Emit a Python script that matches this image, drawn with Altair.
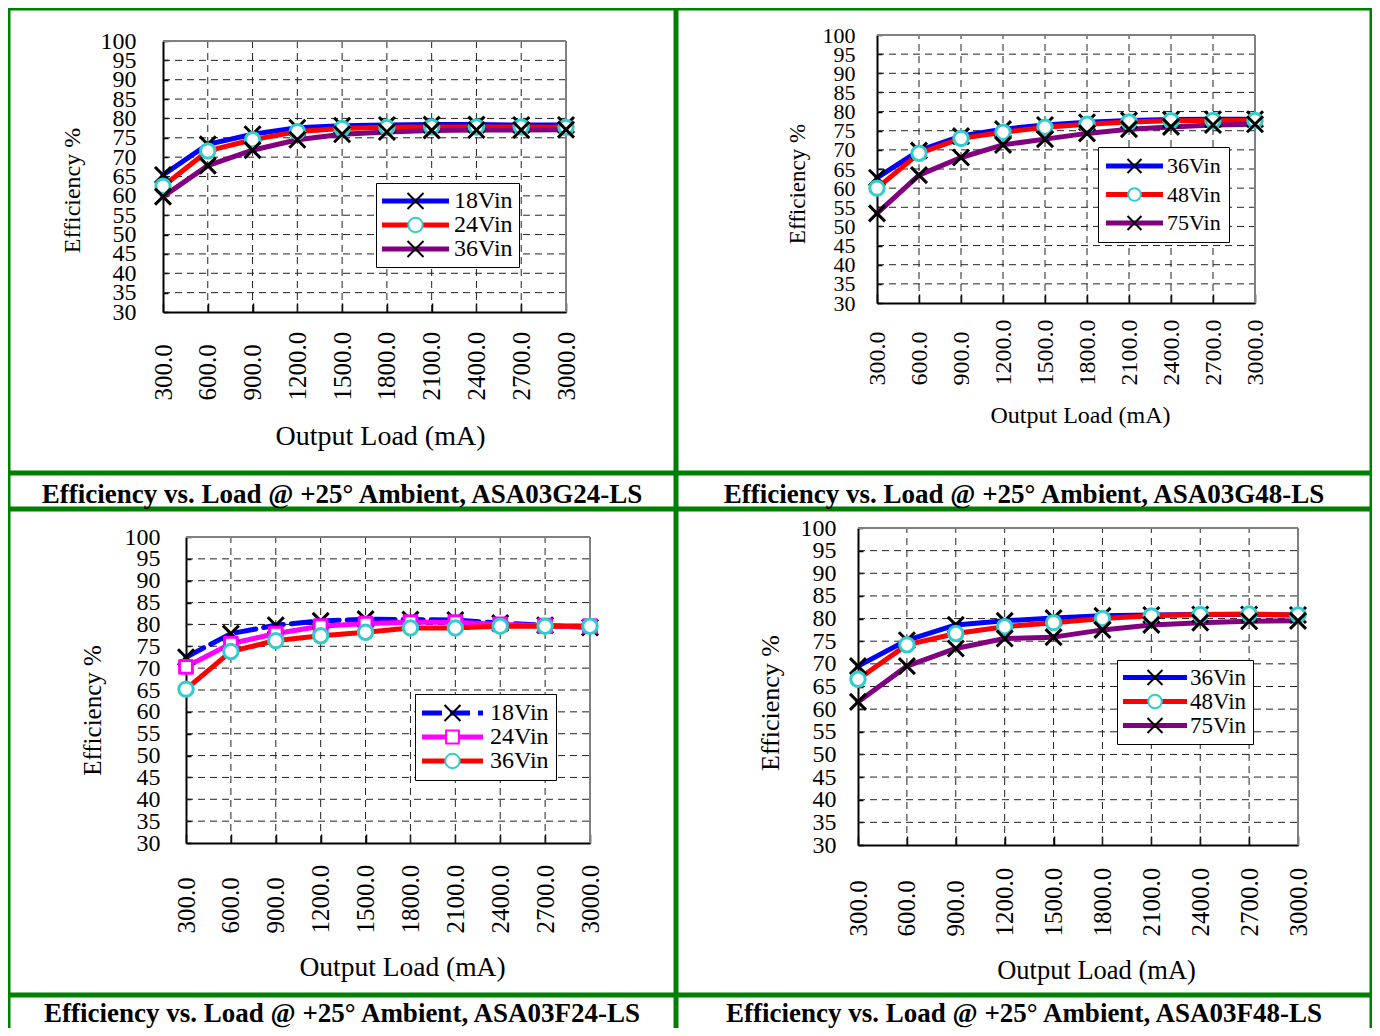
import altair as alt
import pandas as pd

# ---------------- data ----------------
loads = [300, 600, 900, 1200, 1500, 1800, 2100, 2400, 2700, 3000]
y_ticks = [30, 35, 40, 45, 50, 55, 60, 65, 70, 75, 80, 85, 90, 95, 100]

g24_names = ["18Vin", "24Vin", "36Vin"]
g24_18 = [65.4, 73.3, 75.9, 77.6, 78.1, 78.3, 78.4, 78.4, 78.3, 78.3]
g24_24 = [62.5, 71.6, 74.5, 76.6, 77.4, 77.7, 77.8, 77.8, 77.8, 77.7]
g24_36 = [59.8, 67.8, 71.8, 74.5, 75.9, 76.5, 76.9, 77.0, 77.0, 77.1]

g48_names = ["36Vin", "48Vin", "75Vin"]
g48_36 = [62.7, 69.8, 73.6, 75.4, 76.5, 77.2, 77.7, 77.9, 78.0, 78.0]
g48_48 = [60.0, 69.1, 73.0, 74.6, 75.9, 76.7, 77.3, 77.6, 77.7, 77.7]
g48_75 = [53.4, 63.4, 68.0, 71.3, 72.8, 74.3, 75.4, 76.0, 76.5, 76.7]

f24_names = ["18Vin", "24Vin", "36Vin"]
f24_18 = [72.5, 77.9, 79.8, 80.8, 81.2, 81.1, 81.0, 80.3, 79.8, 79.3]
f24_24 = [70.3, 75.6, 77.9, 79.6, 80.2, 80.5, 80.5, 80.0, 79.7, 79.6]
f24_36 = [65.2, 73.8, 76.3, 77.4, 78.2, 79.2, 79.2, 79.6, 79.6, 79.6]

f48_names = ["36Vin", "48Vin", "75Vin"]
f48_36 = [69.5, 75.2, 78.6, 79.5, 80.1, 80.6, 80.8, 80.9, 80.9, 80.8]
f48_48 = [66.6, 74.2, 76.7, 78.2, 79.1, 80.0, 80.6, 80.9, 81.0, 80.8]
f48_75 = [61.6, 69.5, 73.4, 75.6, 75.9, 77.5, 78.6, 79.1, 79.4, 79.5]

captions = [
    "Efficiency vs. Load @ +25° Ambient, ASA03G24-LS",
    "Efficiency vs. Load @ +25° Ambient, ASA03G48-LS",
    "Efficiency vs. Load @ +25° Ambient, ASA03F24-LS",
    "Efficiency vs. Load @ +25° Ambient, ASA03F48-LS",
]
x_title = "Output Load (mA)"
y_title = "Efficiency %"

# ---------------- styles ----------------
GREEN = "#008000"
FONT = "Liberation Serif"
SW = 2.5
BLUE, RED, PURPLE, MAGENTA, CYAN = "#0000FF", "#FF0000", "#800080", "#FF00FF", "#33CCCC"
# marker paths drawn at double scale (extent = sqrt(size))
X_PATH = "M-2,-2L2,2M-2,2L2,-2"
CIRCLE_PATH = "M1.8,0A1.8,1.8,0,1,1,-1.8,0A1.8,1.8,0,1,1,1.8,0Z"
SQUARE_PATH = "M-1.6,-1.6L1.6,-1.6L1.6,1.6L-1.6,1.6Z"
MK_SIZE = 64        # data markers: 16px
LEG_MK_SW = 2       # legend marker stroke width
LEG_SYM = 100       # legend line symbol size (path scale factor 5)
GRID_DASH = [7, 5]
GRID_COLOR = "#222222"


def panel(names, series, line_colors, mk_shapes, mk_colors, dashes, g):
    df = pd.DataFrame(
        [{"load": l, "eff": v, "series": n, "mk": n}
         for n, vals in zip(names, series) for l, v in zip(loads, vals)]
    )
    W, H = g["W"], g["H"]
    x0, x1, y0, y1 = g["plot"]
    xs = alt.Scale(domain=[300, 3000], range=[x0, x1], nice=False, zero=False)
    ys = alt.Scale(domain=[30, 100], range=[y1, y0], nice=False, zero=False)

    main_x = alt.Axis(
        orient="bottom", offset=-(H - y1),
        values=loads, format=".1f", labelAngle=270, labelAlign="left", labelBaseline="middle",
        labelPadding=g["xpad"], labelFont=FONT, labelFontSize=g["xfs"], labelColor="black",
        labelFlush=False, labelOverlap=False, ticks=False, tickSize=0,
        domainColor="black", domainWidth=2, grid=False,
        title=x_title, titleFont=FONT, titleFontSize=g["xtfs"], titleFontWeight="normal",
        titleColor="black", titleX=g["xtx"], titleY=g["xty"], titleAlign="center",
        titleBaseline="middle", titleAngle=0,
    )
    main_y = alt.Axis(
        orient="left", offset=-x0,
        values=y_ticks, labelAlign="right", labelBaseline="middle",
        labelPadding=g["ypad"], labelFont=FONT, labelFontSize=g["yfs"], labelColor="black",
        labelFlush=False, labelOverlap=False, ticks=False, tickSize=0,
        domainColor="black", domainWidth=2, grid=False,
        title=y_title, titleFont=FONT, titleFontSize=g["ytfs"], titleFontWeight="normal",
        titleColor="black", titleX=g["ytx"], titleY=g["yty"], titleAlign="center",
        titleBaseline="middle", titleAngle=270,
    )
    tick_x = alt.Axis(orient="bottom", values=loads, offset=-(H - y1) - 9, tickSize=9, ticks=True,
                      tickColor="black", tickWidth=1.5, domain=False, labels=False,
                      grid=False, title=None)
    tick_y = alt.Axis(orient="left", values=y_ticks, offset=-(x0 + 5), tickSize=5, ticks=True,
                      tickColor="black", tickWidth=1.5, domain=False, labels=False,
                      grid=False, title=None)

    # ---- legends: line legend (A) + marker legend (B) overlaid ----
    S = g["lfs"]
    L = g["llen"]
    c = S / 2.0
    k = (LEG_SYM ** 0.5) / 2.0
    line_path = "M%.3f,0L%.3f,0" % (-c / k, (L - c) / k)
    leg_mk = (S / 2.0 - 2 * LEG_MK_SW) ** 2
    legA = alt.Legend(
        title=None, orient="none", legendX=g["lx"], legendY=g["ly"],
        symbolType=line_path, symbolSize=LEG_SYM, symbolStrokeWidth=5,
        labelFont=FONT, labelFontSize=S, labelColor="black", labelOffset=L + g["lgap"] - S,
        rowPadding=g["lrp"], padding=g["lpad"], fillColor="white", strokeColor="black",
        zindex=1,
    )
    legB = alt.Legend(
        title=None, orient="none",
        legendX=g["lx"] + (L / 2.0 - c), legendY=g["ly"],
        symbolSize=leg_mk, symbolStrokeWidth=LEG_MK_SW, symbolFillColor="white",
        labelFont=FONT, labelFontSize=S, labelColor="rgba(0,0,0,0)", labelOffset=4,
        rowPadding=g["lrp"], padding=g["lpad"], zindex=2,
    )

    # ---- cell border ----
    h = SW / 2.0
    one = pd.DataFrame({"b": [0]})
    border = alt.Chart(one).mark_rect(filled=False, stroke=GREEN, strokeWidth=SW).encode(
        x=alt.value(h), x2=alt.value(W - h), y=alt.value(h), y2=alt.value(H - h)
    )

    # ---- grid + frame (through the scales) ----
    ygrid = alt.Chart(pd.DataFrame({"v": y_ticks[1:-1]})).mark_rule(
        strokeDash=GRID_DASH, color=GRID_COLOR, strokeWidth=1
    ).encode(
        y=alt.Y("v:Q", scale=ys, axis=None),
        x=alt.XDatum(300, scale=xs, axis=None), x2=alt.X2Datum(3000),
    )
    xgrid = alt.Chart(pd.DataFrame({"v": loads[1:-1]})).mark_rule(
        strokeDash=GRID_DASH, color=GRID_COLOR, strokeWidth=1
    ).encode(
        x=alt.X("v:Q", scale=xs, axis=None),
        y=alt.YDatum(30, scale=ys, axis=None), y2=alt.Y2Datum(100),
    )
    top_frame = alt.Chart(one).mark_rule(color="#808080", strokeWidth=2).encode(
        y=alt.YDatum(100, scale=ys, axis=None),
        x=alt.XDatum(300, scale=xs, axis=None), x2=alt.X2Datum(3000),
    )
    right_frame = alt.Chart(one).mark_rule(color="#808080", strokeWidth=2).encode(
        x=alt.XDatum(3000, scale=xs, axis=None),
        y=alt.YDatum(30, scale=ys, axis=None), y2=alt.Y2Datum(100),
    )

    # ---- data ----
    enc = dict(
        x=alt.X("load:Q", scale=xs, axis=main_x),
        y=alt.Y("eff:Q", scale=ys, axis=main_y),
        color=alt.Color("series:N", scale=alt.Scale(domain=names, range=line_colors), legend=legA),
    )
    if dashes:
        enc["strokeDash"] = alt.StrokeDash("series:N", scale=alt.Scale(domain=names, range=dashes), legend=legA)
    lines = alt.Chart(df).mark_line(strokeWidth=5, strokeCap="round", strokeJoin="round").encode(**enc)

    points = alt.Chart(df).mark_point(
        filled=False, fill="white", size=MK_SIZE, strokeWidth=3, opacity=1, strokeJoin="round"
    ).encode(
        x=alt.X("load:Q", scale=xs, axis=tick_x),
        y=alt.Y("eff:Q", scale=ys, axis=tick_y),
        stroke=alt.Stroke("mk:N", scale=alt.Scale(range=mk_colors), legend=legB),
        shape=alt.Shape("mk:N", scale=alt.Scale(range=mk_shapes), legend=legB),
    )

    return alt.layer(border, ygrid, xgrid, top_frame, right_frame, lines, points).resolve_axis(
        x="independent", y="independent"
    ).properties(width=W, height=H, view=alt.ViewBackground(strokeWidth=0))


def caption(text, W, H, ty, open_bottom=False):
    cdf = pd.DataFrame({"caption": [text]})
    h = SW / 2.0
    y2 = H + 6 if open_bottom else H - h
    border = alt.Chart(cdf).mark_rect(filled=False, stroke=GREEN, strokeWidth=SW, clip=True).encode(
        x=alt.value(h), x2=alt.value(W - h), y=alt.value(h), y2=alt.value(y2)
    )
    txt = alt.Chart(cdf).mark_text(
        font=FONT, fontSize=27, fontWeight="bold", color="black", align="center", baseline="middle"
    ).encode(text="caption:N", x=alt.value(W / 2), y=alt.value(ty))
    return alt.layer(border, txt).properties(width=W, height=H, view=alt.ViewBackground(strokeWidth=0))


# cells (page px): columns 8..676 | 676..1372 ; rows 8..473 | 473..509 | 509..995 | 995..1028
g1 = dict(W=668, H=465, plot=[155, 558, 33, 304],
          xfs=25, xpad=88, yfs=24, ypad=27, xtfs=28, xtx=372, xty=124, ytfs=24, ytx=-91, yty=182,
          lx=368, ly=175, llen=67, lfs=24, lgap=5, lrp=0, lpad=6)
g2 = dict(W=696, H=465, plot=[201, 579, 27, 295],
          xfs=24, xpad=82, yfs=22, ypad=22, xtfs=24, xtx=404, xty=112, ytfs=23, ytx=-80, yty=175.5,
          lx=422, ly=139, llen=57, lfs=22, lgap=4, lrp=6.5, lpad=8)
g3 = dict(W=668, H=486, plot=[178, 582, 28, 334],
          xfs=25, xpad=90, yfs=24, ypad=26, xtfs=27.5, xtx=394, xty=124, ytfs=25, ytx=-94, yty=201,
          lx=407, ly=185, llen=61, lfs=24, lgap=7, lrp=0, lpad=7)
g4 = dict(W=696, H=486, plot=[182, 622, 19, 336],
          xfs=25, xpad=91, yfs=24, ypad=22, xtfs=26.5, xtx=420, xty=125, ytfs=26, ytx=-88, yty=193.5,
          lx=441, ly=151, llen=64, lfs=23, lgap=3, lrp=0, lpad=6)

p1 = panel(g24_names, [g24_18, g24_24, g24_36], [BLUE, RED, PURPLE],
           [X_PATH, CIRCLE_PATH, X_PATH], ["black", CYAN, "black"], None, g1)
p2 = panel(g48_names, [g48_36, g48_48, g48_75], [BLUE, RED, PURPLE],
           [X_PATH, CIRCLE_PATH, X_PATH], ["black", CYAN, "black"], None, g2)
p3 = panel(f24_names, [f24_18, f24_24, f24_36], [BLUE, MAGENTA, RED],
           [X_PATH, SQUARE_PATH, CIRCLE_PATH], ["black", MAGENTA, CYAN],
           [[20, 8], [1, 0], [1, 0]], g3)
p4 = panel(f48_names, [f48_36, f48_48, f48_75], [BLUE, RED, PURPLE],
           [X_PATH, CIRCLE_PATH, X_PATH], ["black", CYAN, "black"], None, g4)

res = dict(x="independent", y="independent", color="independent", stroke="independent",
           shape="independent", strokeDash="independent")

row1 = alt.hconcat(p1, p2, spacing=0).resolve_scale(**res)
cap1 = alt.hconcat(caption(captions[0], 668, 36, 22), caption(captions[1], 696, 36, 22), spacing=0)
row2 = alt.hconcat(p3, p4, spacing=0).resolve_scale(**res)
cap2 = alt.hconcat(caption(captions[2], 668, 33, 19, True), caption(captions[3], 696, 33, 19, True), spacing=0)

chart = alt.vconcat(row1, cap1, row2, cap2, spacing=0).resolve_scale(**res).properties(
    padding=0, background="white"
)

chart.save("out.html", embed_options={"renderer": "svg", "actions": False})
